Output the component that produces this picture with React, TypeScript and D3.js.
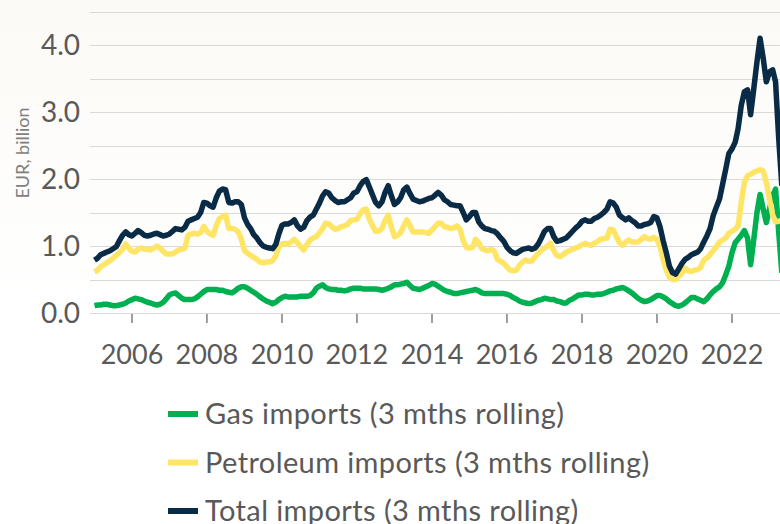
import { useRef, useEffect } from 'react';
import * as d3 from 'd3';

const WIDTH = 780;
const HEIGHT = 524;

// monthly values, EUR billion, starting Jan 2005
const START = new Date(2005, 0, 1);

const GAS = [
  0.11, 0.12, 0.12, 0.13, 0.13, 0.12, 0.11, 0.11, 0.12, 0.13, 0.15, 0.18,
  0.2, 0.22, 0.21, 0.2, 0.18, 0.16, 0.15, 0.13, 0.12, 0.13, 0.16, 0.21,
  0.27, 0.29, 0.3, 0.26, 0.22, 0.2, 0.2, 0.2, 0.21, 0.24, 0.28, 0.32,
  0.35, 0.35, 0.35, 0.35, 0.34, 0.34, 0.32, 0.31, 0.3, 0.33, 0.37, 0.39,
  0.39, 0.37, 0.34, 0.31, 0.28, 0.24, 0.21, 0.18, 0.16, 0.14, 0.16, 0.2,
  0.23, 0.25, 0.24, 0.24, 0.24, 0.24, 0.25, 0.25, 0.25, 0.26, 0.3, 0.37,
  0.4, 0.42, 0.38, 0.36, 0.35, 0.35, 0.34, 0.34, 0.33, 0.34, 0.36, 0.37,
  0.37, 0.37, 0.36, 0.36, 0.36, 0.36, 0.36, 0.35, 0.34, 0.35, 0.37, 0.39,
  0.42, 0.42, 0.43, 0.44, 0.46, 0.41, 0.37, 0.36, 0.35, 0.37, 0.39, 0.41,
  0.44, 0.43, 0.4, 0.37, 0.34, 0.32, 0.31, 0.29, 0.29, 0.3, 0.31, 0.32,
  0.33, 0.34, 0.35, 0.33, 0.3, 0.29, 0.29, 0.29, 0.29, 0.29, 0.29, 0.29,
  0.28, 0.26, 0.23, 0.21, 0.18, 0.16, 0.15, 0.14, 0.15, 0.17, 0.19, 0.2,
  0.22, 0.21, 0.2, 0.2, 0.18, 0.17, 0.15, 0.15, 0.19, 0.21, 0.24, 0.27,
  0.27, 0.28, 0.28, 0.27, 0.27, 0.28, 0.28, 0.29, 0.31, 0.33, 0.34, 0.36,
  0.37, 0.38, 0.36, 0.33, 0.3, 0.26, 0.22, 0.19, 0.17, 0.18, 0.2, 0.23,
  0.26, 0.26, 0.24, 0.21, 0.17, 0.14, 0.11, 0.1, 0.12, 0.15, 0.19, 0.23,
  0.23, 0.21, 0.19, 0.17, 0.21, 0.27, 0.32, 0.36, 0.39, 0.45, 0.57, 0.7,
  0.9, 1.05, 1.1, 1.16, 1.23, 1.12, 0.72, 1.1, 1.5, 1.77, 1.55, 1.35,
  1.55, 1.75, 1.85, 1.2, 0.6,
];

const PETROLEUM = [
  0.61, 0.64, 0.69, 0.72, 0.75, 0.78, 0.82, 0.86, 0.9, 0.95, 1.03, 0.97,
  0.92, 0.91, 0.95, 0.97, 0.95, 0.95, 0.94, 0.97, 1.0, 0.97, 0.92, 0.88,
  0.88, 0.88, 0.91, 0.94, 0.95, 0.97, 1.16, 1.18, 1.19, 1.18, 1.2, 1.29,
  1.22, 1.18, 1.16, 1.3, 1.41, 1.44, 1.46, 1.26, 1.26, 1.25, 1.21, 1.1,
  0.93, 0.89, 0.86, 0.83, 0.8, 0.76, 0.75, 0.76, 0.76, 0.78, 0.85, 0.99,
  1.03, 1.04, 1.03, 1.06, 1.1, 1.05, 0.99, 0.94, 1.02, 1.09, 1.12, 1.14,
  1.2, 1.26, 1.34, 1.33, 1.29, 1.25, 1.26, 1.29, 1.3, 1.32, 1.38, 1.39,
  1.4, 1.48, 1.54, 1.55, 1.4, 1.3, 1.22, 1.22, 1.26, 1.38, 1.46, 1.28,
  1.14, 1.16, 1.2, 1.3, 1.39, 1.3, 1.21, 1.21, 1.21, 1.21, 1.2, 1.19,
  1.24, 1.29, 1.34, 1.34, 1.29, 1.28, 1.26, 1.27, 1.3, 1.25, 1.08, 0.98,
  0.97, 0.98, 1.1, 1.05, 0.96, 0.94, 0.93, 0.95, 0.92, 0.8, 0.77, 0.74,
  0.69, 0.64, 0.63, 0.64, 0.71, 0.76, 0.79, 0.77, 0.78, 0.84, 0.89, 0.94,
  0.97, 1.0, 1.04, 0.93, 0.86, 0.84, 0.87, 0.91, 0.93, 0.95, 0.97, 0.99,
  1.02, 1.04, 1.02, 1.01, 1.04, 1.07, 1.1, 1.11, 1.12, 1.25, 1.24, 1.14,
  1.05, 1.01, 1.06, 1.09, 1.06, 1.06, 1.06, 1.1, 1.14, 1.11, 1.1, 1.13,
  1.1, 0.99, 0.8, 0.64, 0.53, 0.5, 0.5, 0.55, 0.6, 0.67, 0.63, 0.62,
  0.64, 0.65, 0.68, 0.79, 0.82, 0.87, 0.93, 0.99, 1.06, 1.09, 1.12, 1.19,
  1.22, 1.25, 1.3, 1.65, 1.95, 2.05, 2.07, 2.1, 2.12, 2.14, 2.12, 1.95,
  1.7, 1.46, 1.36, 1.37, 1.38,
];

const TOTAL = [
  0.79, 0.82, 0.87, 0.89, 0.91, 0.93, 0.96, 0.99, 1.08, 1.16, 1.21, 1.17,
  1.15, 1.19, 1.23, 1.2, 1.16, 1.15, 1.16, 1.18, 1.19, 1.17, 1.15, 1.16,
  1.18, 1.22, 1.26, 1.25, 1.24, 1.28, 1.37, 1.39, 1.41, 1.43, 1.5, 1.65,
  1.64, 1.6, 1.58, 1.72, 1.82, 1.85, 1.84, 1.65, 1.64, 1.66, 1.66, 1.62,
  1.42, 1.32, 1.26, 1.17, 1.12, 1.05, 1.0, 0.98, 0.97, 0.96, 1.02, 1.18,
  1.31, 1.33, 1.33, 1.35, 1.39, 1.3, 1.25, 1.28, 1.38, 1.43, 1.46, 1.55,
  1.64, 1.75, 1.81, 1.79, 1.72, 1.68, 1.65, 1.66, 1.66, 1.69, 1.72, 1.79,
  1.81, 1.9, 1.96, 1.99, 1.88, 1.76, 1.65, 1.6, 1.66, 1.8, 1.9, 1.75,
  1.62, 1.66, 1.72, 1.84, 1.88, 1.78, 1.7, 1.68, 1.66, 1.67, 1.69, 1.71,
  1.72, 1.76, 1.8, 1.76, 1.69, 1.66, 1.62, 1.61, 1.6, 1.6, 1.5, 1.39,
  1.44, 1.5, 1.5, 1.36, 1.3, 1.26, 1.25, 1.23, 1.22, 1.18, 1.12, 1.07,
  0.98, 0.93, 0.9, 0.89, 0.92, 0.95, 0.96, 0.97, 0.95, 0.97, 1.03, 1.12,
  1.22, 1.26, 1.26, 1.14, 1.07, 1.08, 1.1, 1.12, 1.17, 1.22, 1.27, 1.31,
  1.37, 1.39, 1.37, 1.37, 1.41, 1.43, 1.46, 1.5, 1.55, 1.66, 1.64, 1.58,
  1.46, 1.42, 1.39, 1.42, 1.38, 1.35, 1.3, 1.3, 1.32, 1.33, 1.35, 1.44,
  1.42, 1.28, 1.08, 0.9, 0.7, 0.6, 0.58, 0.66, 0.74, 0.8, 0.83, 0.87,
  0.89, 0.91, 0.96, 1.06, 1.15, 1.26, 1.45, 1.58, 1.7, 1.92, 2.15, 2.38,
  2.45, 2.55, 2.75, 3.1, 3.3, 3.33, 2.96, 3.35, 3.75, 4.1, 3.8, 3.45,
  3.6, 3.63, 3.45, 2.6, 1.9,
];

const SERIES = [
  { name: 'Gas imports (3 mths rolling)', values: GAS, color: '#00b050' },
  { name: 'Petroleum imports (3 mths rolling)', values: PETROLEUM, color: '#ffe566' },
  { name: 'Total imports (3 mths rolling)', values: TOTAL, color: '#0a2b46' },
];

const Y_LABELS = [0, 1, 2, 3, 4];
const GRID_VALUES = [0, 0.5, 1, 1.5, 2, 2.5, 3, 3.5, 4, 4.5];
const X_YEARS = [2006, 2008, 2010, 2012, 2014, 2016, 2018, 2020, 2022];

const TEXT_COLOR = '#595959';
const FONT = 'Lato, "Open Sans", sans-serif';

const App = () => {
  const svgRef = useRef(null);

  useEffect(() => {
    const svg = d3.select(svgRef.current);
    svg.selectAll('*').remove();

    const x = d3
      .scaleTime()
      .domain([new Date(2005, 0, 1), new Date(2023, 0, 1)])
      .range([94.5, 769.5]);
    const y = d3.scaleLinear().domain([0, 4.5]).range([313, 11.5]);

    // faint warm background fading to white
    const grad = svg
      .append('defs')
      .append('linearGradient')
      .attr('id', 'bg')
      .attr('x1', 0)
      .attr('y1', 0)
      .attr('x2', 0)
      .attr('y2', 1);
    grad.append('stop').attr('offset', '0%').attr('stop-color', '#fbfaf6');
    grad.append('stop').attr('offset', '60%').attr('stop-color', '#ffffff');
    svg
      .append('rect')
      .attr('width', WIDTH)
      .attr('height', HEIGHT)
      .attr('fill', 'url(#bg)');

    // gridlines
    svg
      .append('g')
      .selectAll('line')
      .data(GRID_VALUES)
      .join('line')
      .attr('x1', 90)
      .attr('x2', WIDTH)
      .attr('y1', (d) => Math.round(y(d)) + 0.5)
      .attr('y2', (d) => Math.round(y(d)) + 0.5)
      .attr('stroke', '#d9d9d9')
      .attr('stroke-width', 1.2);

    // x axis ticks + labels
    const xTicks = svg.append('g');
    xTicks
      .selectAll('line')
      .data(X_YEARS)
      .join('line')
      .attr('x1', (d) => x(new Date(d, 0, 1)))
      .attr('x2', (d) => x(new Date(d, 0, 1)))
      .attr('y1', 314)
      .attr('y2', 323)
      .attr('stroke', '#7f7f7f')
      .attr('stroke-width', 1.5);
    xTicks
      .selectAll('text')
      .data(X_YEARS)
      .join('text')
      .attr('x', (d) => x(new Date(d, 0, 1)))
      .attr('y', 364)
      .attr('text-anchor', 'middle')
      .attr('font-family', FONT)
      .attr('font-size', 27)
      .attr('fill', TEXT_COLOR)
      .text((d) => d);

    // y axis labels
    svg
      .append('g')
      .selectAll('text')
      .data(Y_LABELS)
      .join('text')
      .attr('x', 80)
      .attr('y', (d) => y(d) + 10)
      .attr('text-anchor', 'end')
      .attr('font-family', FONT)
      .attr('font-size', 28)
      .attr('fill', TEXT_COLOR)
      .text((d) => d.toFixed(1));

    svg
      .append('text')
      .attr('transform', 'translate(29,153) rotate(-90)')
      .attr('text-anchor', 'middle')
      .attr('font-family', FONT)
      .attr('font-size', 18)
      .attr('fill', '#7f7f7f')
      .text('EUR, billion');

    // lines
    const line = d3
      .line()
      .x((d, i) => x(d3.timeMonth.offset(START, i)))
      .y((d) => y(d))
      .curve(d3.curveLinear);

    svg
      .append('g')
      .selectAll('path')
      .data(SERIES)
      .join('path')
      .attr('d', (s) => line(s.values))
      .attr('fill', 'none')
      .attr('stroke', (s) => s.color)
      .attr('stroke-width', 5.5)
      .attr('stroke-linejoin', 'round');

    // legend
    const legend = svg
      .append('g')
      .selectAll('g')
      .data(SERIES)
      .join('g')
      .attr('transform', (d, i) => `translate(168, ${414 + i * 48.5})`);
    legend
      .append('line')
      .attr('x1', 0)
      .attr('x2', 30)
      .attr('stroke', (d) => d.color)
      .attr('stroke-width', 6);
    legend
      .append('text')
      .attr('x', 37)
      .attr('y', 10)
      .attr('font-family', FONT)
      .attr('font-size', 29)
      .attr('letter-spacing', 0.4)
      .attr('fill', TEXT_COLOR)
      .text((d) => d.name);
  }, []);

  return (
    <svg
      ref={svgRef}
      width={WIDTH}
      height={HEIGHT}
      style={{ position: 'absolute', left: 0, top: 0 }}
    />
  );
};

export default App;
